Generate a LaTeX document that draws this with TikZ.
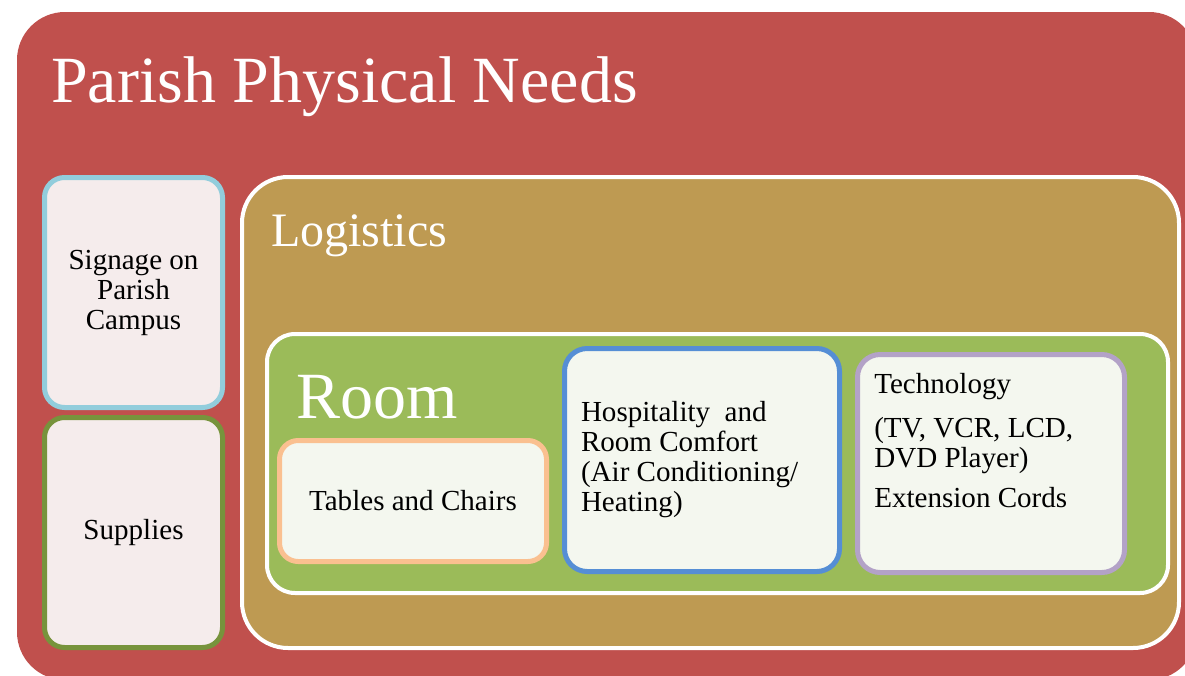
\documentclass[tikz,border=0pt]{standalone}
\usepackage{fontspec}
\setmainfont{Liberation Serif}
\usepackage{xcolor}
\usetikzlibrary{positioning}

\definecolor{needsred}{HTML}{C0504D}
\definecolor{logtan}{HTML}{BE9A52}
\definecolor{roomgreen}{HTML}{9BBB59}
\definecolor{pinkfill}{HTML}{F5ECEC}
\definecolor{palefill}{HTML}{F4F7EF}
\definecolor{signblue}{HTML}{92CDDC}
\definecolor{supplygreen}{HTML}{77933C}
\definecolor{tableorange}{HTML}{FAC090}
\definecolor{hospblue}{HTML}{558ED5}
\definecolor{techpurple}{HTML}{B3A2C7}

\begin{document}
\begin{tikzpicture}[
    x=0.75pt, y=-0.75pt,
    every node/.style={align=center}
]
    % Define styles
    \tikzstyle{needsbox} = [rectangle, rounded corners=36pt, fill=needsred, inner sep=0pt]
    \tikzstyle{logbox} = [rectangle, rounded corners=34.5pt, fill=logtan, draw=white, line width=3pt, inner sep=0pt]
    \tikzstyle{roombox} = [rectangle, rounded corners=21pt, fill=roomgreen, draw=white, line width=3pt, inner sep=0pt]
    \tikzstyle{heading} = [text=white, anchor=base west, inner sep=0pt, font=\fontsize{49.5}{50}\selectfont]
    \tikzstyle{subheading} = [text=white, anchor=base west, inner sep=0pt, font=\fontsize{36}{38}\selectfont]
    \tikzstyle{bodytext} = [font=\fontsize{21.8}{22.5}\selectfont, text=black]
    \tikzstyle{sidebox} = [rectangle, rounded corners=15pt, fill=pinkfill, line width=3.75pt, minimum width=133.5pt, minimum height=172.5pt, bodytext]
    \tikzstyle{itembox} = [rectangle, rounded corners=14pt, fill=palefill, line width=3.75pt, bodytext]

    \useasboundingbox (0,0) rectangle (1185,675);

    % Outer frame
    \node [needsbox, minimum width=885pt, minimum height=501pt] (needs) at (607,346) {};
    \node [heading] (needstitle) at (51,102) {Parish Physical Needs};

    % Left column
    \node [sidebox, draw=signblue] (signage) at (133.5,292.5) {Signage on\\Parish\\Campus};
    \node [sidebox, draw=supplygreen, below=3.75pt of signage] (supplies) {Supplies};

    % Logistics
    \node [logbox, minimum width=702.75pt, minimum height=353.25pt] (logistics) at (710.5,412.5) {};
    \node [subheading] (logtitle) at (271,246) {Logistics};

    % Room
    \node [roombox, minimum width=675.75pt, minimum height=194.25pt] (room) at (717.5,463.5) {};
    \node [heading] (roomtitle) at (296,418) {Room};

    % Items in the room
    \node [itembox, draw=tableorange, minimum width=200.25pt, minimum height=90.75pt] (tables) at (413,501) {Tables and Chairs};
    \node [itembox, draw=hospblue, rounded corners=17pt, minimum width=206.25pt, minimum height=167.25pt,
           text width=181.5pt, inner xsep=12.375pt, align=flush left] (hospitality) at (702,460)
          {Hospitality~ and\\Room Comfort\\(Air Conditioning/\\Heating)};
    \node [itembox, draw=techpurple, rounded corners=17pt, minimum width=200.25pt, minimum height=163.5pt] (tech) at (991,463.5) {};
    \node [bodytext, align=left, inner sep=0pt, below right=15.5pt and 14.25pt of tech.north west] (techtext)
          {Technology\\[11pt](TV, VCR, LCD,\\DVD Player)\\[7.5pt]Extension Cords};

\end{tikzpicture}
\end{document}
